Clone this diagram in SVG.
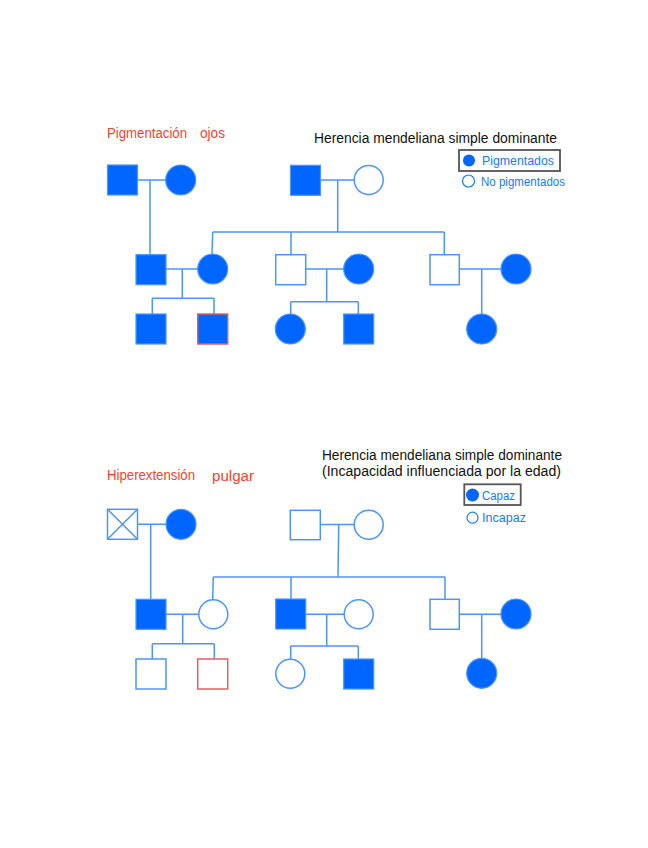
<svg xmlns="http://www.w3.org/2000/svg" width="648" height="848" viewBox="0 0 648 848">
<style>
.bg{fill:#ffffff}
.f{fill:#0066ff;stroke:#4d94ff;stroke-width:1.2}
.o{fill:#ffffff;stroke:#4d94ff;stroke-width:1.5}
.r{stroke:#e06060;stroke-width:1.5}
.ln{fill:none;stroke:#4d94ff;stroke-width:1.5}
.t{font-family:"Liberation Sans",Arial,sans-serif;font-size:14px}
.red{fill:#ee4433}
.blk{fill:#111111}
.blu{fill:#2277ff;font-size:12px}
.box{fill:none;stroke:#555555;stroke-width:1.8}
</style>
<rect class="bg" x="0" y="0" width="648" height="848"/>

<!-- Top pedigree -->
<g id="top-titles">
<text class="t red" x="107" y="138" textLength="80" lengthAdjust="spacingAndGlyphs">Pigmentación</text>
<text class="t red" x="200" y="138" textLength="25" lengthAdjust="spacingAndGlyphs">ojos</text>
<text class="t blk" x="314" y="143" textLength="243" lengthAdjust="spacingAndGlyphs">Herencia mendeliana simple dominante</text>
</g>
<g id="top-legend">
<rect class="box" x="459" y="150" width="101" height="21"/>
<circle cx="469" cy="160.5" r="6" fill="#0066ff"/>
<text class="t blu" x="482" y="165" textLength="72" lengthAdjust="spacingAndGlyphs">Pigmentados</text>
<circle cx="468.5" cy="181" r="6" fill="#ffffff" stroke="#2277ff" stroke-width="1.2"/>
<text class="t blu" x="481" y="186" textLength="84" lengthAdjust="spacingAndGlyphs">No pigmentados</text>
</g>
<g id="top-connectors">
<path class="ln" d="M137,180 H166 M150,180 V255"/>
<path class="ln" d="M320,180 H354 M337.7,180 V232 M212.7,232 H444.3 M212.7,232 L212,254 M291,232 V255 M444.3,232 V255"/>
<path class="ln" d="M166,269 H198 M182.3,269 V298.3 M152.3,298.3 H214 M152.3,298.3 V314 M214,298.3 V314"/>
<path class="ln" d="M305.7,269 H344 M326.7,269 V301.7 M290.7,301.7 H358.3 M290.7,301.7 V314 M358.3,301.7 V314"/>
<path class="ln" d="M459.3,269 H501 M481.7,269 V314"/>
</g>
<g id="t-gp1-m"><rect class="f" x="107.5" y="165" width="30" height="30"/></g>
<g id="t-gp1-f"><circle class="f" cx="180.7" cy="180" r="15"/></g>
<g id="t-gp2-m"><rect class="f" x="290.5" y="165.3" width="30" height="30"/></g>
<g id="t-gp2-f"><circle class="o" cx="368.7" cy="180" r="14.5"/></g>
<g id="t-p1-m"><rect class="f" x="136" y="254.7" width="30" height="30"/></g>
<g id="t-p1-f"><circle class="f" cx="212.7" cy="269" r="15"/></g>
<g id="t-p2-m"><rect class="o" x="275.7" y="254.7" width="30" height="30"/></g>
<g id="t-p2-f"><circle class="f" cx="358.7" cy="269" r="15"/></g>
<g id="t-p3-m"><rect class="o" x="430" y="254.7" width="29.3" height="30"/></g>
<g id="t-p3-f"><circle class="f" cx="516" cy="269" r="15"/></g>
<g id="t-c1"><rect class="f" x="136" y="314" width="30" height="30"/></g>
<g id="t-c2"><rect class="f r" x="197.7" y="314" width="30" height="30"/></g>
<g id="t-c3"><circle class="f" cx="290.3" cy="329" r="15"/></g>
<g id="t-c4"><rect class="f" x="343.7" y="314" width="30" height="30"/></g>
<g id="t-c5"><circle class="f" cx="481.7" cy="329" r="15"/></g>

<!-- Bottom pedigree -->
<g id="bottom-titles">
<text class="t red" x="107" y="480" textLength="88" lengthAdjust="spacingAndGlyphs">Hiperextensión</text>
<text class="t red" x="212" y="481" textLength="42" lengthAdjust="spacingAndGlyphs">pulgar</text>
<text class="t blk" x="322" y="460" textLength="240" lengthAdjust="spacingAndGlyphs">Herencia mendeliana simple dominante</text>
<text class="t blk" x="322" y="476" textLength="239" lengthAdjust="spacingAndGlyphs">(Incapacidad influenciada por la edad)</text>
</g>
<g id="bottom-legend">
<rect class="box" x="464.3" y="484.3" width="56.4" height="20.7"/>
<circle cx="472.5" cy="495" r="6.5" fill="#0066ff"/>
<text class="t blu" x="482" y="500" textLength="33" lengthAdjust="spacingAndGlyphs">Capaz</text>
<circle cx="472.5" cy="517.7" r="5.5" fill="#ffffff" stroke="#2277ff" stroke-width="1.2"/>
<text class="t blu" x="482" y="522" textLength="44" lengthAdjust="spacingAndGlyphs">Incapaz</text>
</g>
<g id="bottom-connectors">
<path class="ln" d="M137.3,524.3 H166 M150.7,524.3 V599.3"/>
<path class="ln" d="M320.3,524.5 H354 M338.7,524.5 L338,577 M213.3,577 H445 M213.3,577 L212.7,599 M291,577 V599.3 M445,577 V599.3"/>
<path class="ln" d="M166,614.3 H198.5 M182.7,614.3 V643.7 M152.3,643.7 H214.3 M152.3,643.7 V659 M214.3,643.7 V659"/>
<path class="ln" d="M305.7,614.3 H344 M326.7,614.3 V646 M290.7,646 H358.3 M290.7,646 V659 M358.3,646 V659"/>
<path class="ln" d="M459.3,614.3 H501 M481.7,614.3 V658.3"/>
</g>
<g id="b-gp1-m"><rect class="o" x="107.5" y="509.3" width="30" height="30"/><path class="ln" d="M107.5,509.3 L137.5,539.3 M137.5,509.3 L107.5,539.3"/></g>
<g id="b-gp1-f"><circle class="f" cx="181" cy="524.3" r="15"/></g>
<g id="b-gp2-m"><rect class="o" x="290.3" y="510.3" width="30" height="29.4"/></g>
<g id="b-gp2-f"><circle class="o" cx="368.7" cy="524.7" r="14.5"/></g>
<g id="b-p1-m"><rect class="f" x="136" y="599.3" width="30" height="30"/></g>
<g id="b-p1-f"><circle class="o" cx="213.3" cy="614.3" r="14.5"/></g>
<g id="b-p2-m"><rect class="f" x="275.7" y="599" width="30" height="30"/></g>
<g id="b-p2-f"><circle class="o" cx="358.7" cy="614.3" r="14.5"/></g>
<g id="b-p3-m"><rect class="o" x="430" y="599.3" width="29.3" height="30"/></g>
<g id="b-p3-f"><circle class="f" cx="516" cy="614" r="15"/></g>
<g id="b-c1"><rect class="o" x="136" y="659" width="30" height="30"/></g>
<g id="b-c2"><rect class="o r" x="197.7" y="659" width="30" height="30"/></g>
<g id="b-c3"><circle class="o" cx="290.3" cy="673.7" r="14.5"/></g>
<g id="b-c4"><rect class="f" x="343.7" y="659" width="30" height="30"/></g>
<g id="b-c5"><circle class="f" cx="481.7" cy="673.3" r="15"/></g>
</svg>
